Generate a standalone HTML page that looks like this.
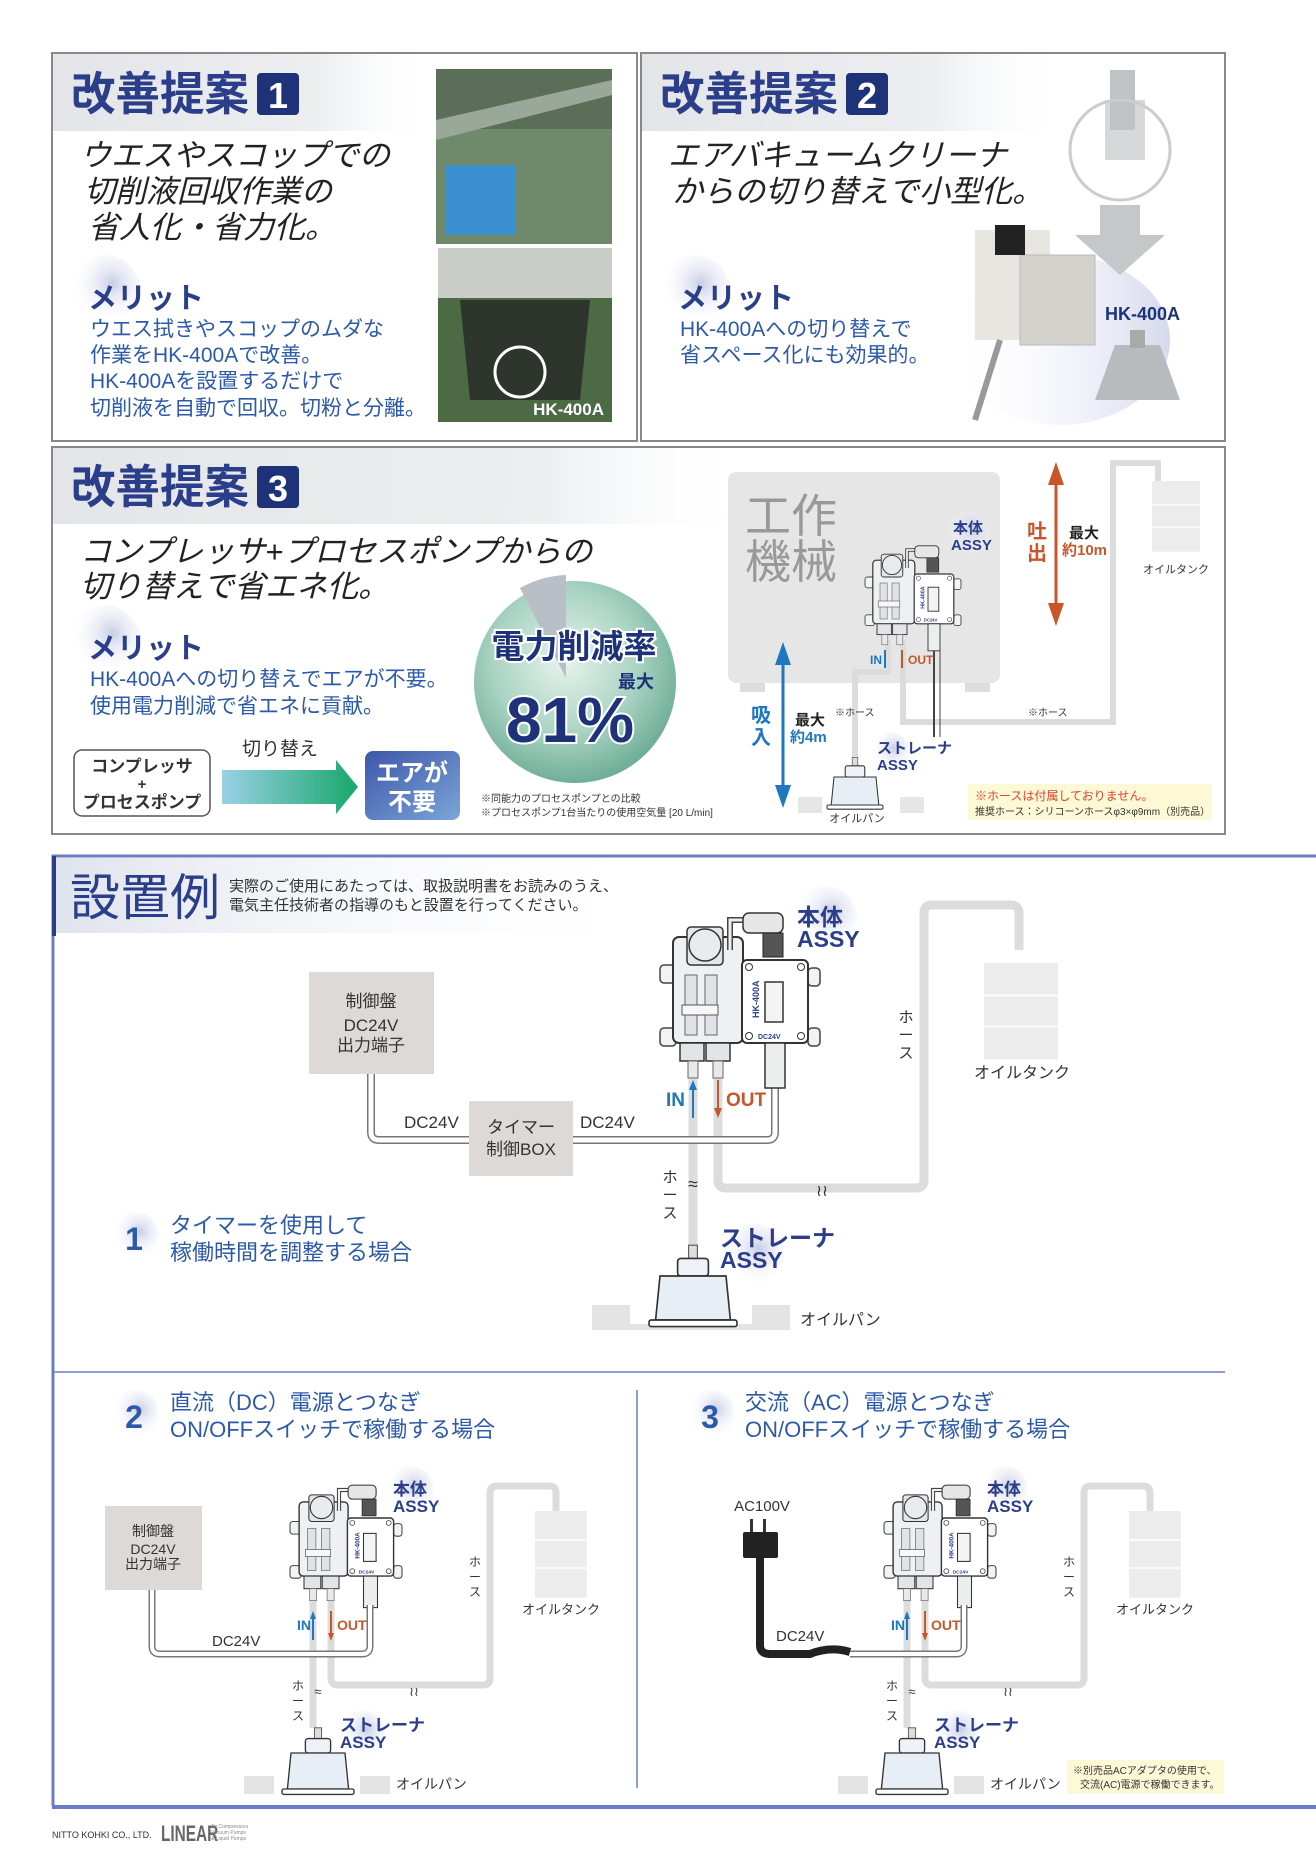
<!DOCTYPE html>
<html><head><meta charset="utf-8"><style>
html,body{margin:0;padding:0;background:#fff}
svg{display:block}
text{font-family:"Liberation Sans","Noto Sans CJK JP",sans-serif}
.t{font-weight:bold;fill:#2b3e8a}
.it{font-style:italic;fill:#222}
.bl{fill:#2d5aa8}
</style></head><body>
<svg width="1316" height="1862" viewBox="0 0 1316 1862" xmlns="http://www.w3.org/2000/svg">
<defs>
<linearGradient id="band" x1="0" x2="1"><stop offset="0" stop-color="#e4e5e8"/><stop offset="0.7" stop-color="#eceef0"/><stop offset="1" stop-color="#fff" stop-opacity="0"/></linearGradient>
<linearGradient id="band2" x1="0" x2="1"><stop offset="0" stop-color="#dfe3ec"/><stop offset="1" stop-color="#fff" stop-opacity="0"/></linearGradient>
<radialGradient id="mer" cx="0.6" cy="0.4" r="0.6"><stop offset="0" stop-color="#c9cde6"/><stop offset="1" stop-color="#fff" stop-opacity="0"/></radialGradient>
<radialGradient id="pie" cx="0.45" cy="0.4" r="0.6"><stop offset="0" stop-color="#e8f3ee"/><stop offset="0.6" stop-color="#a9d3c2"/><stop offset="1" stop-color="#6fae98"/></radialGradient>
<linearGradient id="arr" x1="0" x2="1"><stop offset="0" stop-color="#9ad0e6"/><stop offset="1" stop-color="#17a86a"/></linearGradient>
<linearGradient id="air" x1="0" y1="0" x2="1" y2="1"><stop offset="0" stop-color="#3f56a8"/><stop offset="1" stop-color="#7aa6d8"/></linearGradient>
<linearGradient id="dev" x1="0" x2="1"><stop offset="0" stop-color="#fff" stop-opacity="0"/><stop offset="1" stop-color="#d6d9ee"/></linearGradient>
<g id="pump">
 <rect x="0" y="55" width="16" height="18" rx="4" fill="#f2f3f5" stroke="#444" stroke-width="1.5"/>
 <rect x="0" y="118" width="16" height="18" rx="4" fill="#f2f3f5" stroke="#444" stroke-width="1.5"/>
 <rect x="13" y="27" width="70" height="106" rx="6" fill="#eef0f3" stroke="#333" stroke-width="2"/>
 <rect x="27" y="17" width="36" height="38" rx="4" fill="#e4e6ea" stroke="#333" stroke-width="1.5"/>
 <circle cx="45" cy="35" r="16" fill="#e9ebee" stroke="#333" stroke-width="1.5"/>
 <rect x="25" y="65" width="12" height="60" fill="#dfe2e6" stroke="#666"/>
 <rect x="45" y="65" width="12" height="60" fill="#dfe2e6" stroke="#666"/>
 <rect x="22" y="95" width="36" height="10" fill="#f7f7f7" stroke="#555"/>
 <path d="M70,40 V10 H90" fill="none" stroke="#444" stroke-width="6"/>
 <path d="M70,40 V10 H90" fill="none" stroke="#eee" stroke-width="3"/>
 <rect x="83" y="3" width="40" height="20" rx="6" fill="#e6e6e6" stroke="#333" stroke-width="1.5"/>
 <rect x="103" y="23" width="20" height="24" fill="#555" stroke="#222"/>
 <rect x="148" y="58" width="12" height="18" rx="4" fill="#f2f3f5" stroke="#444" stroke-width="1.5"/>
 <rect x="148" y="118" width="12" height="18" rx="4" fill="#f2f3f5" stroke="#444" stroke-width="1.5"/>
 <rect x="82" y="50" width="66" height="83" rx="5" fill="#fff" stroke="#333" stroke-width="2"/>
 <circle cx="89" cy="57" r="3.5" fill="none" stroke="#333"/><circle cx="141" cy="57" r="3.5" fill="none" stroke="#333"/>
 <circle cx="89" cy="126" r="3.5" fill="none" stroke="#333"/><circle cx="141" cy="126" r="3.5" fill="none" stroke="#333"/>
 <rect x="105" y="72" width="18" height="40" fill="#f4f4f4" stroke="#333" stroke-width="1.5"/>
 <rect x="20" y="133" width="24" height="18" fill="#e2e4e8" stroke="#333" stroke-width="1.5"/>
 <rect x="46" y="133" width="24" height="18" fill="#e2e4e8" stroke="#333" stroke-width="1.5"/>
 <rect x="28" y="151" width="10" height="17" fill="#e9e9e9" stroke="#666"/>
 <rect x="53" y="151" width="10" height="17" fill="#e9e9e9" stroke="#666"/>
 <rect x="105" y="133" width="20" height="45" fill="#eceded" stroke="#333" stroke-width="1.5"/>
 <text x="0" y="0" transform="translate(99,108) rotate(-90)" font-size="9" font-weight="bold" fill="#2b3e8a">HK-400A</text>
 <text x="98" y="129" font-size="7" font-weight="bold" fill="#2b3e8a">DC24V</text>
</g>
<g id="tank">
 <rect x="0" y="0" width="74" height="124" fill="#ececec"/>
 <rect x="0" y="40" width="74" height="3" fill="#fafafa"/><rect x="0" y="80" width="74" height="3" fill="#fafafa"/>
</g>
<g id="strainer">
 <rect x="-4" y="-18" width="8" height="14" fill="#ddd" stroke="#555"/>
 <rect x="-14" y="-6" width="28" height="16" rx="3" fill="#eef2f8" stroke="#333" stroke-width="1.5"/>
 <path d="M-30,10 H30 L34,50 H-34 Z" fill="#e8eef6" stroke="#333" stroke-width="1.5"/>
 <rect x="-40" y="50" width="80" height="6" rx="2" fill="#fff" stroke="#333" stroke-width="1.5"/>
</g>
</defs>

<!-- Box 1 -->
<rect x="52" y="53" width="585" height="388" fill="#fff" stroke="#888" stroke-width="2"/>
<rect x="53" y="54" width="380" height="77" fill="url(#band)"/>
<text x="71" y="110" font-size="46" class="t" textLength="178" lengthAdjust="spacingAndGlyphs">改善提案</text>
<rect x="257" y="73" width="42" height="42" rx="4" fill="#1d3278"/>
<text x="278" y="108" font-size="36" font-weight="bold" fill="#fff" text-anchor="middle">1</text>
<text x="80" y="166" font-size="31" class="it">ウエスやスコップでの</text>
<text x="84" y="202" font-size="31" class="it">切削液回収作業の</text>
<text x="88" y="238" font-size="31" class="it">省人化・省力化。</text>
<circle cx="105" cy="290" r="35" fill="url(#mer)"/>
<text x="88" y="308" font-size="29" class="t">メリット</text>
<text x="90" y="336" font-size="21" class="bl">ウエス拭きやスコップのムダな</text>
<text x="90" y="362" font-size="21" class="bl">作業をHK-400Aで改善。</text>
<text x="90" y="388" font-size="21" class="bl">HK-400Aを設置するだけで</text>
<text x="90" y="415" font-size="21" class="bl">切削液を自動で回収。切粉と分離。</text>
<rect x="436" y="69" width="176" height="175" fill="#6f8a6a"/>
<rect x="436" y="69" width="176" height="60" fill="#5a6e58"/>
<path d="M436,120 L612,80 L612,95 L436,140 Z" fill="#9aa89a"/>
<rect x="445" y="165" width="70" height="70" fill="#3b8ed0"/>
<rect x="438" y="248" width="174" height="174" fill="#4c6b45"/>
<rect x="438" y="248" width="174" height="50" fill="#c9ccc7"/>
<path d="M460,300 L590,300 L580,400 L470,400 Z" fill="#2d352d"/>
<circle cx="520" cy="372" r="25" fill="none" stroke="#fff" stroke-width="3"/>
<text x="604" y="415" font-size="17" font-weight="bold" fill="#fff" text-anchor="end">HK-400A</text>

<!-- Box 2 -->
<rect x="641" y="53" width="584" height="388" fill="#fff" stroke="#888" stroke-width="2"/>
<rect x="642" y="54" width="420" height="77" fill="url(#band)"/>
<text x="660" y="110" font-size="46" class="t" textLength="178" lengthAdjust="spacingAndGlyphs">改善提案</text>
<rect x="846" y="73" width="42" height="42" rx="4" fill="#1d3278"/>
<text x="867" y="108" font-size="36" font-weight="bold" fill="#fff" text-anchor="middle">2</text>
<text x="668" y="166" font-size="31" class="it">エアバキュームクリーナ</text>
<text x="672" y="202" font-size="31" class="it">からの切り替えで小型化。</text>
<circle cx="694" cy="290" r="35" fill="url(#mer)"/>
<text x="678" y="308" font-size="29" class="t">メリット</text>
<text x="680" y="336" font-size="21" class="bl">HK-400Aへの切り替えで</text>
<text x="680" y="362" font-size="21" class="bl">省スペース化にも効果的。</text>
<ellipse cx="1060" cy="340" rx="110" ry="85" fill="url(#dev)"/>
<rect x="1105" y="100" width="40" height="60" fill="#d6d8da"/>
<rect x="1110" y="70" width="25" height="60" fill="#bfc3c6"/>
<ellipse cx="1120" cy="150" rx="50" ry="50" fill="none" stroke="#ccc" stroke-width="3"/>
<path d="M1100,205 H1140 V235 H1165 L1120,275 L1075,235 H1100 Z" fill="#c6c7c9"/>
<rect x="975" y="230" width="75" height="110" fill="#e8e6e0"/><rect x="1020" y="255" width="75" height="90" fill="#d4d2cc" stroke="#bbb"/>
<rect x="995" y="225" width="30" height="30" fill="#222"/>
<path d="M1000,340 L975,420" stroke="#999" stroke-width="6"/>
<text x="1105" y="320" font-size="18" font-weight="bold" fill="#1d3278">HK-400A</text>
<path d="M1115,345 H1160 L1180,400 H1095 Z" fill="#b8babd"/><rect x="1130" y="330" width="15" height="18" fill="#aaa"/>

<!-- Box 3 -->
<rect x="52" y="447" width="1173" height="387" fill="#fff" stroke="#888" stroke-width="2"/>
<rect x="53" y="448" width="700" height="76" fill="url(#band)"/>
<text x="71" y="503" font-size="46" class="t" textLength="178" lengthAdjust="spacingAndGlyphs">改善提案</text>
<rect x="257" y="466" width="42" height="42" rx="4" fill="#1d3278"/>
<text x="278" y="501" font-size="36" font-weight="bold" fill="#fff" text-anchor="middle">3</text>
<text x="80" y="562" font-size="31" class="it">コンプレッサ+プロセスポンプからの</text>
<text x="80" y="597" font-size="31" class="it">切り替えで省エネ化。</text>
<circle cx="105" cy="640" r="35" fill="url(#mer)"/>
<text x="88" y="658" font-size="29" class="t">メリット</text>
<text x="90" y="686" font-size="21" class="bl">HK-400Aへの切り替えでエアが不要。</text>
<text x="90" y="713" font-size="21" class="bl">使用電力削減で省エネに貢献。</text>
<circle cx="575" cy="682" r="101" fill="url(#pie)"/>
<path d="M566,678 L566,575 A103,103 0 0 0 520,588 Z" fill="#b8bfc6"/>
<text x="574" y="658" font-size="33" font-weight="bold" fill="#1d3278" stroke="#fff" stroke-width="4" paint-order="stroke" text-anchor="middle">電力削減率</text>
<text x="618" y="688" font-size="18" font-weight="bold" fill="#1d3278">最大</text>
<text x="570" y="742" font-size="64" font-weight="bold" fill="#1d3278" stroke="#fff" stroke-width="4" paint-order="stroke" text-anchor="middle">81%</text>
<rect x="74" y="750" width="136" height="66" rx="8" fill="#fff" stroke="#555" stroke-width="1.5"/>
<text x="142" y="772" font-size="17" font-weight="bold" fill="#333" text-anchor="middle">コンプレッサ</text>
<text x="142" y="789" font-size="15" font-weight="bold" fill="#333" text-anchor="middle">+</text>
<text x="142" y="808" font-size="17" font-weight="bold" fill="#333" text-anchor="middle">プロセスポンプ</text>
<text x="242" y="755" font-size="19" fill="#333">切り替え</text>
<path d="M222,770 H336 V760 L358,787 L336,814 V804 H222 Z" fill="url(#arr)"/>
<rect x="365" y="751" width="95" height="69" rx="8" fill="url(#air)"/>
<text x="412" y="781" font-size="24" font-weight="bold" fill="#fff" text-anchor="middle">エアが</text>
<text x="412" y="810" font-size="24" font-weight="bold" fill="#fff" text-anchor="middle">不要</text>
<text x="481" y="802" font-size="10" fill="#333">※同能力のプロセスポンプとの比較</text>
<text x="481" y="816" font-size="10" fill="#333">※プロセスポンプ1台当たりの使用空気量 [20 L/min]</text>
<rect x="728" y="472" width="272" height="211" rx="8" fill="#e6e6e6"/>
<rect x="740" y="683" width="25" height="9" fill="#ddd"/><rect x="965" y="683" width="25" height="9" fill="#ddd"/>
<text x="745" y="532" font-size="46" fill="#999">工作</text>
<text x="745" y="578" font-size="46" fill="#999">機械</text>
<g fill="none" stroke="#dcdcdc" stroke-width="6">
 <path d="M903,640 V722 H1113 V463 H1158 V492"/>
 <path d="M888,640 V672 H855 V760"/>
</g>
<line x1="934" y1="650" x2="934" y2="737" stroke="#444" stroke-width="2"/>
<line x1="940" y1="650" x2="940" y2="737" stroke="#444" stroke-width="1"/>
<use href="#pump" transform="translate(865,544) scale(0.6)"/>
<circle cx="968" cy="533" r="22" fill="url(#mer)"/>
<text x="953" y="533" font-size="15" class="t">本体</text>
<text x="951" y="550" font-size="15" class="t">ASSY</text>
<text x="870" y="664" font-size="12" font-weight="bold" fill="#1f77bf">IN</text>
<line x1="885" y1="668" x2="885" y2="650" stroke="#1f77bf" stroke-width="2"/>
<text x="908" y="664" font-size="12" font-weight="bold" fill="#c9562a">OUT</text>
<line x1="902" y1="650" x2="902" y2="668" stroke="#c9562a" stroke-width="2"/>
<use href="#tank" transform="translate(1152,481) scale(0.65,0.57)"/>
<text x="1176" y="573" font-size="11" fill="#333" text-anchor="middle">オイルタンク</text>
<line x1="1056" y1="470" x2="1056" y2="618" stroke="#c9562a" stroke-width="3"/>
<path d="M1048,485 L1056,462 L1064,485 Z M1048,603 L1056,626 L1064,603 Z" fill="#c9562a"/>
<text x="1027" y="538" font-size="20" font-weight="bold" fill="#c9562a">吐</text>
<text x="1027" y="560" font-size="20" font-weight="bold" fill="#c9562a">出</text>
<text x="1069" y="538" font-size="15" font-weight="bold" fill="#222">最大</text>
<text x="1062" y="555" font-size="15" font-weight="bold" fill="#c9562a">約10m</text>
<line x1="783" y1="650" x2="783" y2="800" stroke="#1f77bf" stroke-width="3"/>
<path d="M775,665 L783,642 L791,665 Z M775,785 L783,808 L791,785 Z" fill="#1f77bf"/>
<text x="751" y="722" font-size="20" font-weight="bold" fill="#1f77bf">吸</text>
<text x="751" y="744" font-size="20" font-weight="bold" fill="#1f77bf">入</text>
<text x="795" y="725" font-size="15" font-weight="bold" fill="#222">最大</text>
<text x="790" y="742" font-size="15" font-weight="bold" fill="#1f77bf">約4m</text>
<text x="835" y="716" font-size="10" fill="#333">※ホース</text>
<text x="1028" y="716" font-size="10" fill="#333">※ホース</text>
<rect x="798" y="797" width="24" height="16" fill="#e6e6e6"/><rect x="900" y="797" width="24" height="16" fill="#e6e6e6"/>
<use href="#strainer" transform="translate(855,770) scale(0.7)"/>
<circle cx="890" cy="752" r="20" fill="url(#mer)"/>
<text x="877" y="753" font-size="15" class="t">ストレーナ</text>
<text x="877" y="770" font-size="15" class="t">ASSY</text>
<text x="857" y="822" font-size="11" fill="#333" text-anchor="middle">オイルパン</text>
<rect x="968" y="784" width="244" height="36" fill="#fdf8d5"/>
<text x="975" y="800" font-size="12" fill="#d9452b">※ホースは付属しておりません。</text>
<text x="975" y="815" font-size="10" fill="#333">推奨ホース：シリコーンホースφ3×φ9mm（別売品）</text>

<!-- 設置例 -->
<path d="M53,1806 V856 H1316" fill="none" stroke="#6a7dc0" stroke-width="3"/>
<path d="M52,1807 H1316" stroke="#6a7dc0" stroke-width="4"/>
<rect x="55" y="858" width="610" height="75" fill="url(#band2)"/>
<rect x="52" y="856" width="4" height="80" fill="#2b3e8a"/>
<text x="70" y="915" font-size="50" fill="#2b3e8a">設置例</text>
<text x="229" y="891" font-size="15" fill="#333">実際のご使用にあたっては、取扱説明書をお読みのうえ、</text>
<text x="229" y="910" font-size="15" fill="#333">電気主任技術者の指導のもと設置を行ってください。</text>
<line x1="54" y1="1372" x2="1225" y2="1372" stroke="#6a7dc0" stroke-width="1.5"/>
<line x1="637" y1="1390" x2="637" y2="1788" stroke="#6a7dc0" stroke-width="1.5"/>

<!-- Section 1 -->
<rect x="309" y="972" width="125" height="102" fill="#dcd9d6"/>
<text x="371" y="1007" font-size="17" fill="#333" text-anchor="middle">制御盤</text>
<text x="371" y="1031" font-size="17" fill="#333" text-anchor="middle">DC24V</text>
<text x="371" y="1051" font-size="17" fill="#333" text-anchor="middle">出力端子</text>
<g fill="none" stroke="#dcdcdc" stroke-width="9">
 <path d="M693,1068 V1245"/>
 <path d="M718,1068 V1180 Q718,1188 726,1188 H916 Q924,1188 924,1180 V913 Q924,905 932,905 H1011 Q1019,905 1019,913 V950"/>
</g>
<path d="M371,1074 V1132 Q371,1140 379,1140 H767 Q775,1140 775,1132 V1085" fill="none" stroke="#777" stroke-width="8"/>
<path d="M371,1074 V1132 Q371,1140 379,1140 H767 Q775,1140 775,1132 V1085" fill="none" stroke="#fff" stroke-width="5"/>
<rect x="469" y="1101" width="104" height="75" fill="#dcd9d6"/>
<text x="521" y="1133" font-size="17" fill="#333" text-anchor="middle">タイマー</text>
<text x="521" y="1155" font-size="17" fill="#333" text-anchor="middle">制御BOX</text>
<text x="404" y="1128" font-size="17" fill="#333">DC24V</text>
<text x="580" y="1128" font-size="17" fill="#333">DC24V</text>
<use href="#pump" transform="translate(660,910)"/>
<circle cx="825" cy="918" r="32" fill="url(#mer)"/>
<text x="797" y="925" font-size="23" class="t">本体</text>
<text x="797" y="947" font-size="23" class="t">ASSY</text>
<text x="666" y="1106" font-size="19" font-weight="bold" fill="#1f77bf">IN</text>
<path d="M693,1118 V1085" stroke="#1f77bf" stroke-width="2"/><path d="M689,1090 L693,1080 L697,1090 Z" fill="#1f77bf"/>
<path d="M718,1080 V1112" stroke="#c9562a" stroke-width="2"/><path d="M714,1108 L718,1118 L722,1108 Z" fill="#c9562a"/>
<text x="726" y="1106" font-size="19" font-weight="bold" fill="#c9562a">OUT</text>
<use href="#tank" transform="translate(984,963) scale(1,0.78)"/>
<text x="1022" y="1078" font-size="16" fill="#333" text-anchor="middle">オイルタンク</text>
<text x="906" y="1022" font-size="15" fill="#333" text-anchor="middle">ホ</text>
<text x="906" y="1040" font-size="15" fill="#333" text-anchor="middle">ー</text>
<text x="906" y="1058" font-size="15" fill="#333" text-anchor="middle">ス</text>
<text x="670" y="1182" font-size="15" fill="#333" text-anchor="middle">ホ</text>
<text x="670" y="1200" font-size="15" fill="#333" text-anchor="middle">ー</text>
<text x="670" y="1218" font-size="15" fill="#333" text-anchor="middle">ス</text>
<text x="693" y="1190" font-size="18" fill="#333" text-anchor="middle">≈</text>
<text x="822" y="1196" font-size="16" fill="#333" text-anchor="middle">≀≀</text>
<rect x="592" y="1305" width="38" height="25" fill="#e4e4e4"/><rect x="752" y="1305" width="38" height="25" fill="#e4e4e4"/>
<rect x="592" y="1324" width="198" height="6" fill="#e4e4e4"/>
<use href="#strainer" transform="translate(693,1265) scale(1.1)"/>
<circle cx="752" cy="1255" r="32" fill="url(#mer)"/>
<text x="720" y="1246" font-size="23" class="t">ストレーナ</text>
<text x="720" y="1268" font-size="23" class="t">ASSY</text>
<text x="800" y="1325" font-size="16" fill="#333">オイルパン</text>
<circle cx="135" cy="1236" r="24" fill="url(#mer)"/>
<text x="134" y="1250" font-size="32" font-weight="bold" fill="#2d5aa8" text-anchor="middle">1</text>
<text x="170" y="1233" font-size="22" class="bl">タイマーを使用して</text>
<text x="170" y="1260" font-size="22" class="bl">稼働時間を調整する場合</text>

<!-- Section 2 -->
<circle cx="135" cy="1414" r="24" fill="url(#mer)"/>
<text x="134" y="1428" font-size="32" font-weight="bold" fill="#2d5aa8" text-anchor="middle">2</text>
<text x="170" y="1410" font-size="22" class="bl">直流（DC）電源とつなぎ</text>
<text x="170" y="1437" font-size="22" class="bl">ON/OFFスイッチで稼働する場合</text>
<rect x="105" y="1506" width="97" height="84" fill="#dcd9d6"/>
<text x="153" y="1536" font-size="14" fill="#333" text-anchor="middle">制御盤</text>
<text x="153" y="1554" font-size="14" fill="#333" text-anchor="middle">DC24V</text>
<text x="153" y="1569" font-size="14" fill="#333" text-anchor="middle">出力端子</text>
<g id="s2">
<g fill="none" stroke="#dcdcdc" stroke-width="7">
 <path d="M313,1600 V1728"/>
 <path d="M331,1600 V1678 Q331,1685 338,1685 H483 Q490,1685 490,1678 V1493 Q490,1486 497,1486 H549 Q556,1486 556,1493 V1530"/>
</g>
<use href="#pump" transform="translate(290,1483) scale(0.7)"/>
<circle cx="410" cy="1490" r="24" fill="url(#mer)"/>
<text x="393" y="1495" font-size="17" class="t">本体</text>
<text x="393" y="1512" font-size="17" class="t">ASSY</text>
<text x="297" y="1630" font-size="14" font-weight="bold" fill="#1f77bf">IN</text>
<path d="M313,1640 V1615" stroke="#1f77bf" stroke-width="2"/><path d="M310,1619 L313,1611 L316,1619 Z" fill="#1f77bf"/>
<path d="M331,1611 V1636" stroke="#c9562a" stroke-width="2"/><path d="M328,1633 L331,1641 L334,1633 Z" fill="#c9562a"/>
<text x="337" y="1630" font-size="14" font-weight="bold" fill="#c9562a">OUT</text>
<use href="#tank" transform="translate(535,1511) scale(0.7,0.7)"/>
<text x="561" y="1614" font-size="13" fill="#333" text-anchor="middle">オイルタンク</text>
<text x="475" y="1566" font-size="12" fill="#333" text-anchor="middle">ホ</text>
<text x="475" y="1581" font-size="12" fill="#333" text-anchor="middle">ー</text>
<text x="475" y="1596" font-size="12" fill="#333" text-anchor="middle">ス</text>
<text x="298" y="1690" font-size="12" fill="#333" text-anchor="middle">ホ</text>
<text x="298" y="1705" font-size="12" fill="#333" text-anchor="middle">ー</text>
<text x="298" y="1720" font-size="12" fill="#333" text-anchor="middle">ス</text>
<text x="318" y="1696" font-size="13" fill="#333" text-anchor="middle">≈</text>
<text x="414" y="1696" font-size="13" fill="#333" text-anchor="middle">≀≀</text>
<rect x="244" y="1776" width="30" height="18" fill="#e4e4e4"/><rect x="360" y="1776" width="30" height="18" fill="#e4e4e4"/>
<use href="#strainer" transform="translate(318,1744) scale(0.9)"/>
<circle cx="362" cy="1734" r="24" fill="url(#mer)"/>
<text x="340" y="1731" font-size="17" class="t">ストレーナ</text>
<text x="340" y="1748" font-size="17" class="t">ASSY</text>
<text x="396" y="1789" font-size="14" fill="#333">オイルパン</text>
</g>
<path d="M152,1590 V1646 Q152,1654 160,1654 H362 Q370,1654 370,1646 V1605" fill="none" stroke="#777" stroke-width="7"/>
<path d="M152,1590 V1646 Q152,1654 160,1654 H362 Q370,1654 370,1646 V1605" fill="none" stroke="#fff" stroke-width="4"/>
<text x="212" y="1646" font-size="15" fill="#333">DC24V</text>

<!-- Section 3 -->
<circle cx="711" cy="1414" r="24" fill="url(#mer)"/>
<text x="710" y="1428" font-size="32" font-weight="bold" fill="#2d5aa8" text-anchor="middle">3</text>
<text x="745" y="1410" font-size="22" class="bl">交流（AC）電源とつなぎ</text>
<text x="745" y="1437" font-size="22" class="bl">ON/OFFスイッチで稼働する場合</text>
<use href="#s2" transform="translate(594,0)"/>
<text x="762" y="1511" font-size="15" fill="#333" text-anchor="middle">AC100V</text>
<rect x="750" y="1519" width="3" height="14" fill="#333"/><rect x="763" y="1519" width="3" height="14" fill="#333"/>
<rect x="743" y="1532" width="35" height="26" rx="2" fill="#222"/>
<path d="M760,1558 V1645 Q760,1654 770,1654 H810 Q830,1646 850,1652" fill="none" stroke="#222" stroke-width="8"/>
<path d="M850,1654 H956 Q964,1654 964,1646 V1605" fill="none" stroke="#777" stroke-width="7"/>
<path d="M850,1654 H956 Q964,1654 964,1646 V1605" fill="none" stroke="#fff" stroke-width="4"/>
<text x="776" y="1641" font-size="15" fill="#333">DC24V</text>
<rect x="1067" y="1760" width="157" height="34" fill="#fdf8d5"/>
<text x="1073" y="1774" font-size="10" fill="#333">※別売品ACアダプタの使用で、</text>
<text x="1080" y="1788" font-size="10" fill="#333">交流(AC)電源で稼働できます。</text>

<!-- Footer -->
<text x="52" y="1838" font-size="9" fill="#333">NITTO KOHKI CO., LTD.</text>
<text x="161" y="1841" font-size="22" font-weight="bold" fill="#666" transform="translate(161,1841) scale(0.7,1) translate(-161,-1841)">LINEAR</text>
<text x="211" y="1828" font-size="5" fill="#888">Air Compressors</text>
<text x="211" y="1834" font-size="5" fill="#888">Vacuum Pumps</text>
<text x="211" y="1840" font-size="5" fill="#888">&amp; Liquid Pumps</text>
</svg>
</body></html>
